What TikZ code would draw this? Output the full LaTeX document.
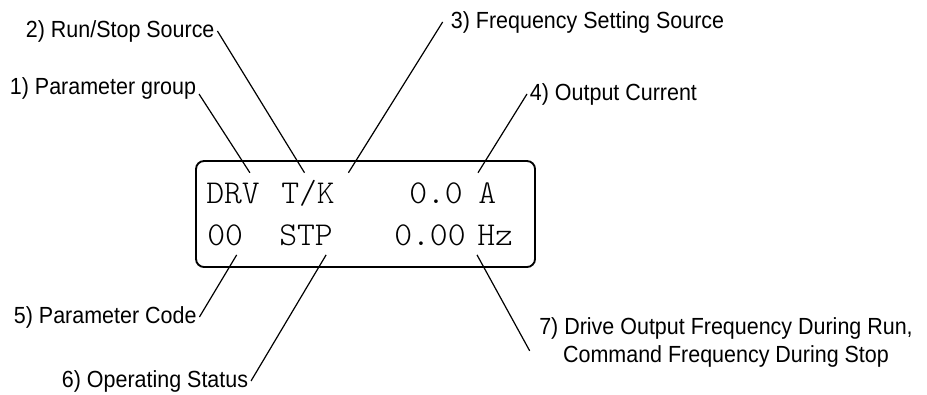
\documentclass[tikz,border=0pt]{standalone}
\usepackage{fontspec}
\setmainfont{Liberation Sans}[FakeStretch=0.92]
\setmonofont{lmmonolt10-regular}[Extension=.otf, FakeStretch=1.02]
\usepackage{xcolor}
\usetikzlibrary{positioning}

\tikzset{
  lcdtext/.style={font=\fontsize{25}{30}\selectfont\ttfamily, inner xsep=0pt, inner ysep=7.2pt,
    text height=15.3pt, text depth=0pt, anchor=base west},
  calltext/.style={font=\fontsize{17.5}{21}\selectfont, inner sep=2pt},
  callline/.style={line width=0.9pt}
}

\begin{document}
\begin{tikzpicture}[x=0.75pt, y=-0.75pt]
    \useasboundingbox (0,0) rectangle (927,394);

    % Draw the display frame
    \draw[line width=1.4pt, rounded corners=6pt] (196,161) rectangle (535,267);

    % Display fields, top row
    \node[lcdtext] (drv) at (206,203) {DRV};
    \node[lcdtext] (tk)  at (281,203) {T/K};
    \node[lcdtext] (cur) at (409,203) {0.0};
    \node[lcdtext] (amp) at (478,203) {A};

    % Display fields, bottom row
    \node[lcdtext] (code) at (207,245) {00};
    \node[lcdtext] (stp)  at (279,245) {STP};
    \node[lcdtext] (freq) at (394,245) {0.00};
    \node[lcdtext] (hz)   at (477,245) {Hz};

    % Labels around the display
    \node[calltext, anchor=base west] (lgroup) at (7,94) {1) Parameter group};
    \node[calltext, anchor=base west] (lrun)   at (23,37) {2) Run/Stop Source};
    \node[calltext, anchor=base west] (lfreq)  at (448,28) {3) Frequency Setting Source};
    \node[calltext, anchor=base west] (lcur)   at (527,100) {4) Output Current};
    \node[calltext, anchor=base west] (lcode)  at (11,323) {5) Parameter Code};
    \node[calltext, anchor=base west] (lstat)  at (59,387) {6) Operating Status};
    \node[calltext, anchor=north, align=center] (ldrive) at (726,315)
        {7) Drive Output Frequency During Run,\\Command Frequency During Stop};

    % Connect each label to its field
    \draw[callline] (lgroup.base east) -- (drv.50);
    \draw[callline] (lrun.east) -- (tk.100);
    \draw[callline] ([xshift=-4pt]lfreq.west) -- ([xshift=10pt]tk.north east);
    \draw[callline] (lcur.west) -- (amp.north west);
    \draw[callline] (lcode.east) -- (code.-60);
    \draw[callline] (lstat.east) -- (stp.-45);
    \draw[callline] (hz.south west) -- ([shift={(-5pt,-6pt)}]ldrive.west);
\end{tikzpicture}
\end{document}
